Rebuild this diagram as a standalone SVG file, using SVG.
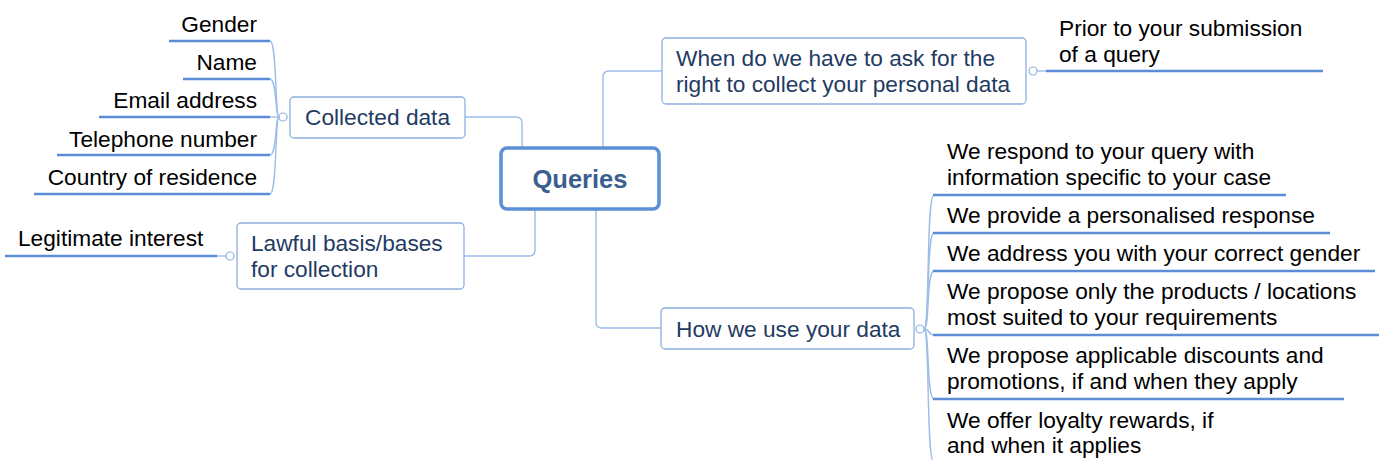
<svg xmlns="http://www.w3.org/2000/svg" width="1379" height="460" viewBox="0 0 1379 460">
<style>
text{font-family:"Liberation Sans",Arial,sans-serif;font-size:22.7px}
.leaf{fill:#000}
.box{fill:#fff;stroke:#8DB0E0;stroke-width:1.3}
.bt{fill:#1F3B63}
.ul{stroke:#5B8DD6;stroke-width:2.6;fill:none}
.cn{stroke:#9DBDE9;stroke-width:1.4;fill:none}
.dot{fill:#fff;stroke:#8DB0E0;stroke-width:1.2}
</style>
<rect width="1379" height="460" fill="#fff"/>
<g id="connectors">
<path class="cn" d="M465,117 H516 Q522,117 522,123 V148"/>
<path class="cn" d="M603,148 V77 Q603,71 609,71 H662"/>
<path class="cn" d="M464,256 H529 Q535,256 535,250 V210"/>
<path class="cn" d="M596,210 V322 Q596,328 602,328 H661"/>
<path class="cn" d="M279,117 C275,117 277,41 270,41"/>
<path class="cn" d="M279,117 C275,117 277,79 270,79"/>
<path class="cn" d="M279,117 H270"/>
<path class="cn" d="M279,117 C275,117 277,155 270,155"/>
<path class="cn" d="M279,117 C275,117 277,194 270,194"/>
<path class="cn" d="M226,256 H217"/>
<path class="cn" d="M1037,71 H1046"/>
<path class="cn" d="M924,329 C930,329 926,195 934,195"/>
<path class="cn" d="M924,329 C930,329 926,233 934,233"/>
<path class="cn" d="M924,329 C930,329 926,271 934,271"/>
<path class="cn" d="M924,329 C930,329 928,335 934,335"/>
<path class="cn" d="M924,329 C930,329 926,399 934,399"/>
<path class="cn" d="M924,329 C930,329 926,463 934,463"/>
<circle class="dot" cx="283" cy="117" r="4"/>
<circle class="dot" cx="230" cy="256" r="4"/>
<circle class="dot" cx="1033" cy="71" r="4"/>
<circle class="dot" cx="920" cy="329" r="4"/>
</g>
<g id="queries">
<rect x="501" y="148" width="158" height="61" rx="6" fill="#fff" stroke="#5B8FD6" stroke-width="3.5"/>
<text x="580" y="188" text-anchor="middle" font-weight="bold" style="font-size:25.5px" fill="#3A5F8F">Queries</text>
</g>
<g id="collected">
<rect class="box" x="290" y="97" width="175" height="41" rx="4"/>
<text class="bt" x="305" y="125">Collected data</text>
</g>
<g id="gender"><path class="ul" d="M169,41 H270"/><text class="leaf" x="257" y="32" text-anchor="end">Gender</text></g>
<g id="name"><path class="ul" d="M183,79 H270"/><text class="leaf" x="257" y="70" text-anchor="end">Name</text></g>
<g id="email"><path class="ul" d="M99,117 H270"/><text class="leaf" x="257" y="108" text-anchor="end">Email address</text></g>
<g id="phone"><path class="ul" d="M57,155 H270"/><text class="leaf" x="257" y="147" text-anchor="end">Telephone number</text></g>
<g id="country"><path class="ul" d="M34,194 H270"/><text class="leaf" x="257" y="185" text-anchor="end">Country of residence</text></g>
<g id="lawful">
<rect class="box" x="237" y="223" width="227" height="66" rx="4"/>
<text class="bt" x="251" y="251">Lawful basis/bases</text>
<text class="bt" x="251" y="277">for collection</text>
</g>
<g id="legit"><path class="ul" d="M5,256 H217"/><text class="leaf" x="18" y="246">Legitimate interest</text></g>
<g id="when">
<rect class="box" x="662" y="38" width="364" height="66" rx="4"/>
<text class="bt" x="676" y="66">When do we have to ask for the</text>
<text class="bt" x="676" y="92">right to collect your personal data</text>
</g>
<g id="prior"><path class="ul" d="M1046,71 H1323"/><text class="leaf" x="1059" y="36">Prior to your submission</text><text class="leaf" x="1059" y="62">of a query</text></g>
<g id="how">
<rect class="box" x="661" y="308" width="253" height="41" rx="4"/>
<text class="bt" x="676" y="337">How we use your data</text>
</g>
<g id="respond"><path class="ul" d="M933,195 H1286"/><text class="leaf" x="947" y="159">We respond to your query with</text><text class="leaf" x="947" y="185">information specific to your case</text></g>
<g id="provide"><path class="ul" d="M933,233 H1330"/><text class="leaf" x="947" y="223">We provide a personalised response</text></g>
<g id="address"><path class="ul" d="M933,271 H1375"/><text class="leaf" x="947" y="261">We address you with your correct gender</text></g>
<g id="propose"><path class="ul" d="M933,335 H1379"/><text class="leaf" x="947" y="299">We propose only the products / locations</text><text class="leaf" x="947" y="325">most suited to your requirements</text></g>
<g id="discounts"><path class="ul" d="M933,399 H1344"/><text class="leaf" x="947" y="363">We propose applicable discounts and</text><text class="leaf" x="947" y="389">promotions, if and when they apply</text></g>
<g id="loyalty"><path class="ul" d="M933,463 H1230"/><text class="leaf" x="947" y="428">We offer loyalty rewards, if</text><text class="leaf" x="947" y="453">and when it applies</text></g>
</svg>
